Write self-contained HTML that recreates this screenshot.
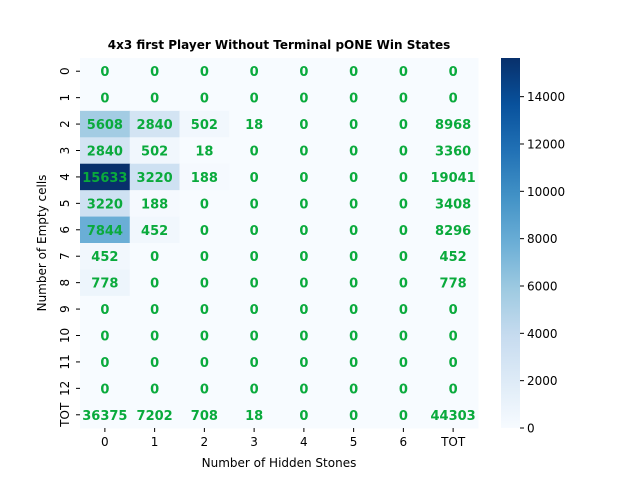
<!DOCTYPE html>
<html><head><meta charset="utf-8"><style>
body{margin:0;background:#fff;}
svg{font-family:"DejaVu Sans","Liberation Sans",sans-serif;}
</style></head><body>
<svg id="chart" width="640" height="480">
<defs><linearGradient id="cb" x1="0" y1="1" x2="0" y2="0">
<stop offset="0" stop-color="#f7fbff"/><stop offset="0.125" stop-color="#deebf7"/><stop offset="0.25" stop-color="#c6dbef"/><stop offset="0.375" stop-color="#9ecae1"/><stop offset="0.5" stop-color="#6baed6"/><stop offset="0.625" stop-color="#4292c6"/><stop offset="0.75" stop-color="#2171b5"/><stop offset="0.875" stop-color="#08519c"/><stop offset="1" stop-color="#08306b"/>
</linearGradient></defs>
<text x="279" y="49" text-anchor="middle" font-size="12" font-weight="bold">4x3 first Player Without Terminal pONE Win States</text>
<g id="cells"></g>
<rect x="501" y="58" width="19" height="370" fill="url(#cb)"/>
<g id="cbticks"></g>
<text x="279" y="467" text-anchor="middle" font-size="12">Number of Hidden Stones</text>
<text transform="translate(46,243) rotate(-90)" text-anchor="middle" font-size="12">Number of Empty cells</text>
</svg>
<script>
const colLabels=["0","1","2","3","4","5","6","TOT"];
const rowLabels=["0","1","2","3","4","5","6","7","8","9","10","11","12","TOT"];
const values=[
[0,0,0,0,0,0,0,0],
[0,0,0,0,0,0,0,0],
[5608,2840,502,18,0,0,0,8968],
[2840,502,18,0,0,0,0,3360],
[15633,3220,188,0,0,0,0,19041],
[3220,188,0,0,0,0,0,3408],
[7844,452,0,0,0,0,0,8296],
[452,0,0,0,0,0,0,452],
[778,0,0,0,0,0,0,778],
[0,0,0,0,0,0,0,0],
[0,0,0,0,0,0,0,0],
[0,0,0,0,0,0,0,0],
[0,0,0,0,0,0,0,0],
[36375,7202,708,18,0,0,0,44303]];
const cbTicks=[0,2000,4000,6000,8000,10000,12000,14000];
const vmax=15633;
const X0=80,Y0=58,W=398,H=370;
const cw=W/colLabels.length, rh=H/rowLabels.length;
const xs=i=>X0+i*cw, ys=j=>Y0+j*rh;
const cbY=v=>428-v/vmax*370;
const stops=["#f7fbff","#deebf7","#c6dbef","#9ecae1","#6baed6","#4292c6","#2171b5","#08519c","#08306b"].map(h=>[1,3,5].map(k=>parseInt(h.substr(k,2),16)));
function cmap(t){t=Math.max(0,Math.min(1,t))*8;const i=Math.min(7,Math.floor(t)),f=t-i;const c=stops[i].map((a,k)=>Math.round(a+(stops[i+1][k]-a)*f));return `rgb(${c})`;}
const NS="http://www.w3.org/2000/svg";
const g=document.getElementById('cells');
function mk(tag,at,txt){const e=document.createElementNS(NS,tag);for(const k in at)e.setAttribute(k,at[k]);if(txt!==undefined)e.textContent=txt;return e;}
values.forEach((row,j)=>row.forEach((v,i)=>{
 const tot=(i===colLabels.length-1||j===rowLabels.length-1);
 const r=mk('rect',{x:xs(i),y:ys(j),width:cw+0.5,height:rh+0.5,fill:tot?"#f7fbff":cmap(v/vmax)});
 
 
 g.appendChild(r);
 const t=mk('text',{x:xs(i)+cw/2,y:ys(j)+rh/2+5,'text-anchor':'middle','font-size':13,'font-weight':'bold',fill:'#0aaa3c'},String(v));
 
 
 g.appendChild(t);
}));
colLabels.forEach((l,i)=>{
 g.appendChild(mk('line',{x1:xs(i)+cw/2,x2:xs(i)+cw/2,y1:428,y2:432,stroke:'#000'}));
 const t=mk('text',{x:xs(i)+cw/2,y:446,'text-anchor':'middle','font-size':12},l);
 
 
 g.appendChild(t);
});
rowLabels.forEach((l,j)=>{
 const y=ys(j)+rh/2;
 g.appendChild(mk('line',{x1:76,x2:80,y1:y,y2:y,stroke:'#000'}));
 const t=mk('text',{transform:`translate(69,${y}) rotate(-90)`,'text-anchor':'middle','font-size':12},l);
 
 
 g.appendChild(t);
});
const cg=document.getElementById('cbticks');
cbTicks.forEach(v=>{
 const y=cbY(v);
 cg.appendChild(mk('line',{x1:520,x2:524,y1:y,y2:y,stroke:'#000'}));
 const t=mk('text',{x:527,y:y+4.5,'font-size':12},String(v));
 
 
 cg.appendChild(t);
});
</script>
</body></html>
